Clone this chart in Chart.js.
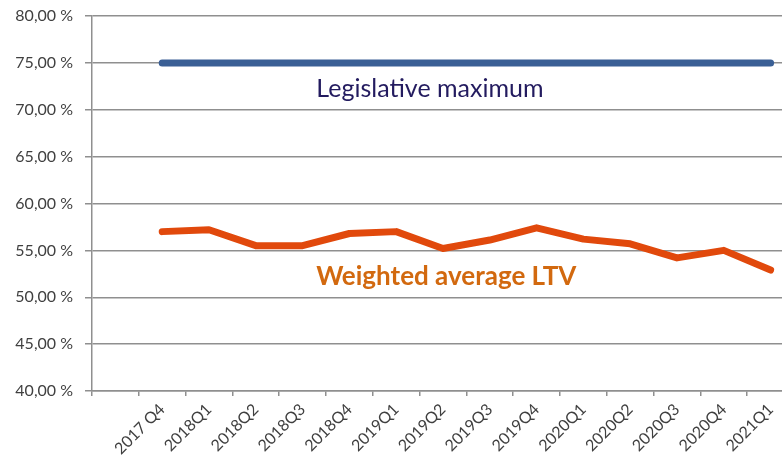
<!DOCTYPE html>
<html>
<head>
<meta charset="utf-8">
<script src="https://cdn.jsdelivr.net/npm/chart.js@4/dist/chart.umd.min.js"></script>
<style>
    html, body { margin: 0; padding: 0; background: #fff; overflow: hidden; }
    #wrap { width: 794px; height: 461px; position: relative; }
</style>
</head>
<body>
<div id="wrap"><canvas id="chart"></canvas></div>
<script>
// first category is left empty in the original chart
const quarters = ['', '2017 Q4', '2018Q1', '2018Q2', '2018Q3', '2018Q4', '2019Q1', '2019Q2',
    '2019Q3', '2019Q4', '2020Q1', '2020Q2', '2020Q3', '2020Q4', '2021Q1'];
const weightedLtv = [null, 57.0, 57.2, 55.5, 55.5, 56.8, 57.0, 55.2,
    56.1, 57.4, 56.2, 55.7, 54.2, 55.0, 52.9];
const legislativeMax = [null, 75, 75, 75, 75, 75, 75, 75,
    75, 75, 75, 75, 75, 75, 75];
const seriesNames = ['Legislative maximum', 'Weighted average LTV'];

const FONT = 'Lato, "Open Sans", sans-serif';
const GRID = '#8f8f8f';

// text labels placed inside the plot, at (category index, value)
const inlineLabels = [
    { text: seriesNames[0], x: 6.72, y: 72.2, color: '#231b5f', font: `25px ${FONT}` },
    { text: seriesNames[1], x: 7.07, y: 52.2, color: '#d2690f', font: `bold 26px ${FONT}` }
];

const inlineLabelPlugin = {
    id: 'inlineLabels',
    afterDatasetsDraw(chart) {
        const { ctx, scales } = chart;
        ctx.save();
        ctx.textAlign = 'center';
        ctx.textBaseline = 'middle';
        for (const lbl of inlineLabels) {
            ctx.font = lbl.font;
            ctx.fillStyle = lbl.color;
            ctx.fillText(lbl.text, scales.x.getPixelForValue(lbl.x), scales.y.getPixelForValue(lbl.y));
        }
        ctx.restore();
    }
};

new Chart(document.getElementById('chart'), {
    type: 'line',
    data: {
        labels: quarters,
        datasets: [{
            label: seriesNames[0],
            data: legislativeMax,
            borderColor: '#3a5f95',
            borderWidth: 7,
            borderCapStyle: 'round',
            pointRadius: 0,
            tension: 0
        }, {
            label: seriesNames[1],
            data: weightedLtv,
            borderColor: '#e1490c',
            borderWidth: 7,
            borderCapStyle: 'round',
            borderJoinStyle: 'round',
            pointRadius: 0,
            tension: 0
        }]
    },
    options: {
        responsive: true,
        maintainAspectRatio: false,
        animation: false,
        layout: { padding: { top: 16, right: 0, left: 0, bottom: 0 } },
        plugins: {
            legend: { display: false },
            tooltip: { enabled: false }
        },
        scales: {
            x: {
                offset: true,
                grid: {
                    offset: true,
                    drawOnChartArea: false,
                    drawTicks: true,
                    tickLength: 5,
                    color: GRID,
                    lineWidth: 1.5
                },
                border: { color: GRID, width: 1.5 },
                ticks: {
                    autoSkip: false,
                    minRotation: 45,
                    maxRotation: 45,
                    padding: 4,
                    color: '#404040',
                    font: { family: FONT, size: 16 }
                },
                afterFit(scale) { scale.height = 70; }
            },
            y: {
                min: 40,
                max: 80,
                ticks: {
                    stepSize: 5,
                    padding: 12,
                    color: '#404040',
                    font: { family: FONT, size: 16 },
                    callback: v => v.toFixed(2).replace('.', ',') + ' %'
                },
                grid: { color: GRID, lineWidth: 1.5, tickLength: 7 },
                border: { color: GRID, width: 1.5 },
                afterFit(scale) {
                    scale.width = 92;
                    scale.paddingTop = 0;
                }
            }
        }
    },
    plugins: [inlineLabelPlugin]
});
</script>
</body>
</html>
